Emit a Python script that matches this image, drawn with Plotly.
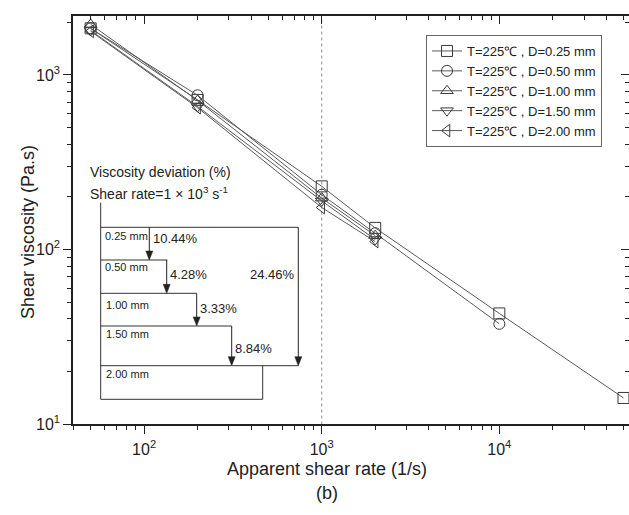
import plotly.graph_objects as go

# ---------------- data ----------------
shear_025 = [50, 200, 1000, 2000, 10000, 50000]
visc_025 = [1850, 720, 230, 133, 43, 14.1]
shear_050 = [50, 200, 1000, 2000, 10000]
visc_050 = [1850, 765, 206, 124, 37.5]
shear_100 = [50, 200, 1000, 2000]
visc_100 = [1950, 715, 197, 120]
shear_150 = [50, 200, 1000, 2000]
visc_150 = [1800, 660, 190, 114]
shear_200 = [50, 200, 1000, 2000]
visc_200 = [1780, 650, 174, 111]

series_names = ["T=225℃ , D=0.25 mm", "T=225℃ , D=0.50 mm", "T=225℃ , D=1.00 mm",
                "T=225℃ , D=1.50 mm", "T=225℃ , D=2.00 mm"]
ref_shear_rate = 1000

x_major = [100, 1000, 10000]
x_major_text = ["10<sup>2</sup>", "10<sup>3</sup>", "10<sup>4</sup>"]
x_minor = [40, 50, 60, 70, 80, 90, 200, 300, 400, 500, 600, 700, 800, 900,
           2000, 3000, 4000, 5000, 6000, 7000, 8000, 9000, 20000, 30000, 40000, 50000]
y_major = [10, 100, 1000]
y_major_text = ["10<sup>1</sup>", "10<sup>2</sup>", "10<sup>3</sup>"]
y_minor = [20, 30, 40, 50, 60, 70, 80, 90, 200, 300, 400, 500, 600, 700, 800, 900, 2000]

dev_labels = ["10.44%", "4.28%", "3.33%", "8.84%", "24.46%"]
dia_labels = ["0.25 mm", "0.50 mm", "1.00 mm", "1.50 mm", "2.00 mm"]

# ---------------- layout geometry ----------------
W, H = 629, 515
L, R, T, B = 73, 629, 16, 424
FONT = "Liberation Sans, Arial, sans-serif"
x_range = [1.5997, 4.730]
y_range = [1.0, 3.338]


def px(x):
    return (x - L) / (R - L)


def py(y):
    return (B - y) / (B - T)


fig = go.Figure()

# reference dotted line at 1e3
fig.add_trace(go.Scatter(x=[ref_shear_rate, ref_shear_rate], y=[1, 1e5], mode="lines",
                         line=dict(color="#8a8a8a", width=1, dash="dot"),
                         showlegend=False, hoverinfo="skip"))

symbols = ["square-open", "circle-open", "triangle-up-open", "triangle-down-open", "triangle-left-open"]
xs = [shear_025, shear_050, shear_100, shear_150, shear_200]
ys = [visc_025, visc_050, visc_100, visc_150, visc_200]
for name, sym, xv, yv in zip(series_names, symbols, xs, ys):
    fig.add_trace(go.Scatter(
        x=xv, y=yv, mode="lines+markers", name=name,
        line=dict(color="#5a5a5a", width=1),
        marker=dict(symbol=sym, size=11, color="#3a3a3a", line=dict(width=1)),
    ))

# dummy trace to activate top/right mirror axes
fig.add_trace(go.Scatter(x=[None], y=[None], xaxis="x2", yaxis="y2",
                         showlegend=False, hoverinfo="skip"))

axis_common = dict(type="log", showgrid=False, zeroline=False, automargin=False)

fig.update_layout(
    width=W, height=H,
    margin=dict(l=L, r=W - R, t=T, b=H - B),
    template="none",
    paper_bgcolor="white", plot_bgcolor="white",
    font=dict(family=FONT, color="#222", size=16),
    showlegend=True,
    legend=dict(x=px(426), y=py(35), xanchor="left", yanchor="top",
                bgcolor="white", bordercolor="#666", borderwidth=1,
                font=dict(size=13, family=FONT, color="#222"),
                tracegroupgap=0),
    xaxis=dict(**axis_common, range=x_range, tickmode="array", tickvals=x_major,
               ticktext=x_major_text, ticks="outside", ticklen=8, tickwidth=1.2,
               tickcolor="#222", showline=True, linecolor="#222", linewidth=1.5,
               tickfont=dict(size=16), ticklabelstandoff=2,
               minor=dict(tickmode="array", tickvals=x_minor, ticks="outside",
                          ticklen=4, tickwidth=1.2, tickcolor="#222")),
    yaxis=dict(**axis_common, range=y_range, tickmode="array", tickvals=y_major,
               ticktext=y_major_text, ticks="outside", ticklen=8, tickwidth=1.2,
               tickcolor="#222", showline=True, linecolor="#222", linewidth=1.5,
               tickfont=dict(size=16),
               minor=dict(tickmode="array", tickvals=y_minor, ticks="outside",
                          ticklen=4, tickwidth=1.2, tickcolor="#222")),
    xaxis2=dict(**axis_common, range=x_range, overlaying="x", side="top", anchor="y2",
                tickmode="array", tickvals=x_major, showticklabels=False,
                ticks="inside", ticklen=8, tickwidth=1.2, tickcolor="#222",
                showline=True, linecolor="#222", linewidth=1.5,
                minor=dict(tickmode="array", tickvals=x_minor, ticks="inside",
                           ticklen=4, tickwidth=1.2, tickcolor="#222")),
    yaxis2=dict(**axis_common, range=y_range, overlaying="y", side="right", anchor="x2",
                tickmode="array", tickvals=y_major, showticklabels=False,
                ticks="inside", ticklen=8, tickwidth=1.2, tickcolor="#222",
                showline=False,
                minor=dict(tickmode="array", tickvals=y_minor, ticks="inside",
                           ticklen=4, tickwidth=1.2, tickcolor="#222")),
)

# axis titles and inset texts
annotations = [
    dict(text="Apparent shear rate (1/s)", x=px(327), y=py(469), xref="paper", yref="paper",
         showarrow=False, font=dict(size=18, family=FONT, color="#222"), xanchor="center", yanchor="middle"),
    dict(text="(b)", x=px(327), y=py(493), xref="paper", yref="paper",
         showarrow=False, font=dict(size=18, family=FONT, color="#222"), xanchor="center", yanchor="middle"),
    dict(text="Shear viscosity (Pa.s)", x=px(28), y=py(232), xref="paper", yref="paper",
         showarrow=False, textangle=-90, font=dict(size=18, family=FONT, color="#222"),
         xanchor="center", yanchor="middle"),
    dict(text="Viscosity deviation (%)", x=px(88), y=py(172), xref="paper", yref="paper",
         showarrow=False, font=dict(size=14, family=FONT, color="#222"), xanchor="left", yanchor="middle"),
    dict(text="Shear rate=1 × 10<sup>3</sup> s<sup>-1</sup>", x=px(88), y=py(193), xref="paper", yref="paper",
         showarrow=False, font=dict(size=14, family=FONT, color="#222"), xanchor="left", yanchor="middle"),
]

dia_pos = [(103, 236), (103, 267), (104, 305), (104, 334), (104, 374)]
for lab, (xx, yy) in zip(dia_labels, dia_pos):
    annotations.append(dict(text=lab, x=px(xx), y=py(yy), xref="paper", yref="paper",
                            showarrow=False, font=dict(size=11, family=FONT, color="#222"),
                            xanchor="left", yanchor="middle"))

dev_pos = [(151, 238, "left"), (168, 274, "left"), (198, 308, "left"), (233, 348, "left"), (297, 274, "right")]
for lab, (xx, yy, anc) in zip(dev_labels, dev_pos):
    annotations.append(dict(text=lab, x=px(xx), y=py(yy), xref="paper", yref="paper",
                            showarrow=False, font=dict(size=13, family=FONT, color="#222"),
                            xanchor=anc, yanchor="middle"))
fig.update_layout(annotations=annotations)

# inset: frame lines
segs = [
    (100.7, 202.7, 100.7, 399.3),
    (100.7, 227.3, 298.3, 227.3),
    (100.7, 260.0, 167.3, 260.0),
    (100.7, 293.3, 196.7, 293.3),
    (100.7, 326.0, 231.7, 326.0),
    (100.7, 365.7, 298.3, 365.7),
    (262.7, 365.7, 262.7, 399.3),
    (100.7, 399.3, 262.7, 399.3),
]
shapes = []
for x0, y0, x1, y1 in segs:
    shapes.append(dict(type="line", xref="paper", yref="paper",
                       x0=px(x0), y0=py(y0), x1=px(x1), y1=py(y1),
                       line=dict(color="#333", width=1)))

# inset: downward arrows (x, y_start, y_end)
arrows = [(149.3, 227.3, 260), (166.7, 260, 293.3), (196.7, 293.3, 326),
          (231.7, 326, 365.7), (298.3, 227.3, 365.7)]
HEAD_L, HEAD_W = 9, 3.5
for xa, y0, y1 in arrows:
    shapes.append(dict(type="line", xref="paper", yref="paper",
                       x0=px(xa), y0=py(y0), x1=px(xa), y1=py(y1 - HEAD_L + 1),
                       line=dict(color="#222", width=1)))
    path = "M {:.5f} {:.5f} L {:.5f} {:.5f} L {:.5f} {:.5f} Z".format(
        px(xa - HEAD_W), py(y1 - HEAD_L), px(xa + HEAD_W), py(y1 - HEAD_L), px(xa), py(y1))
    shapes.append(dict(type="path", xref="paper", yref="paper", path=path,
                       fillcolor="#222", line=dict(color="#222", width=0.5)))
fig.update_layout(shapes=shapes)

fig.write_html("out.html")
